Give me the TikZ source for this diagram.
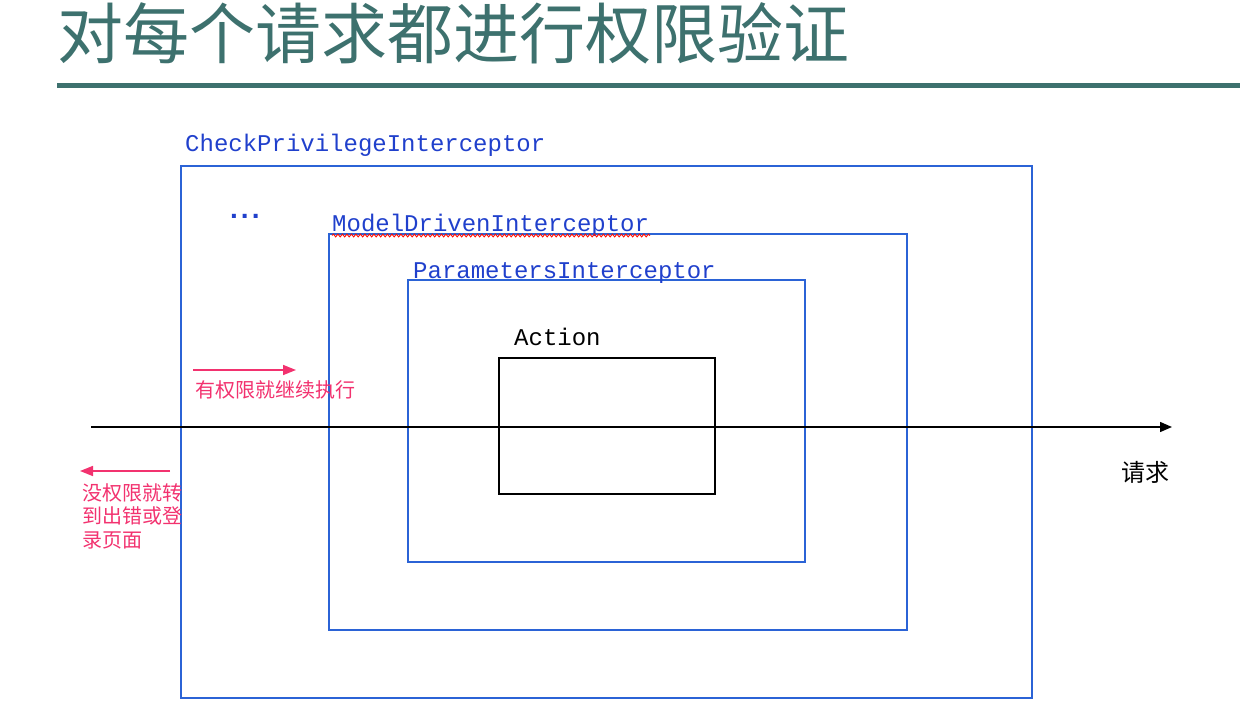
\documentclass[tikz,border=0pt]{standalone}
\usepackage{fontspec}
\setmonofont{Liberation Mono}
\setsansfont{Liberation Sans}
\newfontfamily\cjk{Noto Sans CJK SC}
\usetikzlibrary{arrows.meta,decorations.pathmorphing}
\definecolor{titlecol}{HTML}{3D716E}
\definecolor{boxcol}{HTML}{2B63D6}
\definecolor{labcol}{HTML}{2040CC}
\definecolor{pinkcol}{HTML}{F2326F}

\tikzset{
  layer/.style={draw=boxcol, line width=1.7pt, inner sep=0pt, outer sep=0pt, anchor=north west},
  lbl/.style={font=\fontsize{24}{24}\selectfont\ttfamily, labcol, anchor=base west, inner sep=0pt},
  note/.style={font=\fontsize{20}{23.5}\selectfont\cjk, pinkcol, inner sep=0pt},
  pinkarrow/.style={pinkcol, line width=1.6pt, -{Triangle[length=13pt, width=10pt]}}
}

\begin{document}
\begin{tikzpicture}[x=1pt, y=-1pt]
  \useasboundingbox (0,0) rectangle (1240,722);

  % title and rule
  \node[anchor=west, inner sep=0pt, titlecol, font=\fontsize{66}{66}\selectfont\cjk] (title) at (57,33) {对每个请求都进行权限验证};
  \draw[titlecol, line width=5pt] (57,86) -- (1240,86);

  % interceptor stack (outer to inner)
  \node[layer, minimum width=851pt, minimum height=532pt] (cpi) at (181,166) {};
  \node[layer, minimum width=578pt, minimum height=396pt] (mdi) at (329,234) {};
  \node[layer, minimum width=397pt, minimum height=282pt] (pi) at (408,280) {};
  \node[layer, draw=black, minimum width=216pt, minimum height=136pt] (act) at (499,358) {};

  % labels
  \node[lbl] (cpilbl) at (185,152) {CheckPrivilegeInterceptor};
  \node[lbl, font=\fontsize{28}{28}\selectfont\sffamily\bfseries] (dots) at (230,219) {.\kern3pt.\kern3pt.};
  \node[lbl] (mdilbl) at (332,232) {ModelDrivenInterceptor};
  \node[lbl] (pilbl) at (413,278) {ParametersInterceptor};
  \node[lbl, black] (actlbl) at (514,345) {Action};
  \draw[red!90!orange, line width=0.9pt, decorate, decoration={snake, amplitude=1.4pt, segment length=4.5pt}]
    (mdilbl.base west) ++(0,3.5) -- ++(318,0);

  % request axis
  \coordinate (reqin) at (91,427);
  \coordinate (reqout) at (1172,427);
  \draw[line width=1.5pt, -{Triangle[length=12pt, width=10pt]}] (reqin) -- (reqout);
  \node[font=\fontsize{24}{24}\selectfont\cjk, anchor=east, inner sep=0pt] (req) at (1170,472) {请求};

  % pass / reject notes
  \coordinate (passa) at (193,370);
  \coordinate (passb) at (296,370);
  \draw[pinkarrow] (passa) -- (passb);
  \node[note, anchor=west] (pass) at (195,390) {有权限就继续执行};

  \coordinate (rejecta) at (170,471);
  \coordinate (rejectb) at (80,471);
  \draw[pinkarrow] (rejecta) -- (rejectb);
  \node[note, anchor=north west, align=left] (reject) at (82,483) {没权限就转\\到出错或登\\录页面};
\end{tikzpicture}
\end{document}
